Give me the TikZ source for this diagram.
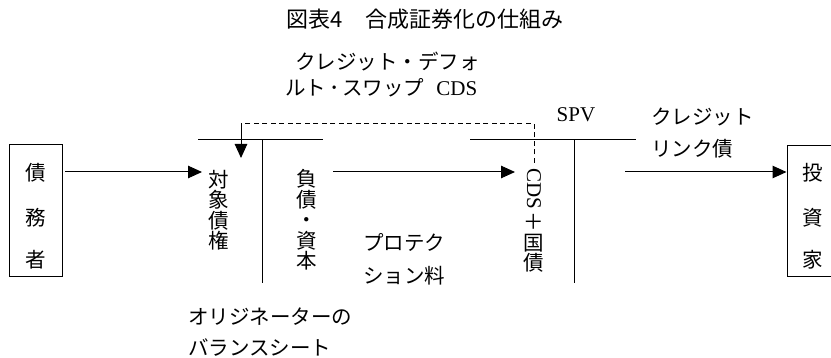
\documentclass[tikz,border=0pt]{standalone}
\usepackage{fontspec}
\newfontfamily\jp{Noto Sans CJK JP}
\newfontfamily\lat{Liberation Serif}
\usetikzlibrary{arrows.meta}
\begin{document}
\begin{tikzpicture}[x=1pt,y=-1pt,
  ln/.style={line width=1pt},
  arr/.style={ln,-{Triangle[length=14pt,width=12.5pt]}},
  dsh/.style={line width=1pt,dash pattern=on 5pt off 3.5pt},
  jt/.style={font=\jp\fontsize{20.5}{20.5}\selectfont,inner sep=0pt,align=center},
  tt/.style={font=\jp\fontsize{22}{22}\selectfont,inner sep=0pt},
  lt/.style={font=\lat\fontsize{21}{21}\selectfont,inner sep=0pt},
  boxst/.style={draw,line width=1pt,inner sep=0pt}]
\useasboundingbox (0,0) rectangle (831,358);

% title
\node[tt] (title) at (425,19) {図表4　合成証券化の仕組み};

% CDS label
\node[jt,anchor=west] (cdsA) at (295,62) {クレジット・デフォ};
\node[jt,anchor=west] (cdsB) at (285,88) {ルト\hspace{3pt}･\hspace{3pt}スワップ\hspace{12pt}{\lat\fontsize{21}{21}\selectfont CDS}};

% boxes
\node[boxst,minimum width=53pt,minimum height=132pt] (debtor) at (35.5,211) {};
\node[jt] (d1) at (35.5,173) {債};
\node[jt] (d2) at (35.5,218) {務};
\node[jt] (d3) at (35.5,260) {者};

\node[boxst,minimum width=56pt,minimum height=131pt] (inv) at (815,211.5) {};
\node[jt] (i1) at (813,173) {投};
\node[jt] (i2) at (813,218) {資};
\node[jt] (i3) at (813,260) {家};

% originator balance sheet
\coordinate (obL) at (198,140);
\coordinate (obR) at (323,140);
\coordinate (obT) at (262,140);
\coordinate (obB) at (262,283);
\draw[ln] (obL) -- (obR);
\draw[ln] (obT) -- (obB);
\node[jt] (asset) at (219,210) {対\\象\\債\\権};
\node[jt] (liab) at (307,220) {負\\債\\・\\資\\本};

% SPV balance sheet
\coordinate (spL) at (470,140);
\coordinate (spR) at (636,140);
\coordinate (spT) at (574,140);
\coordinate (spB) at (574,283);
\draw[ln] (spL) -- (spR);
\draw[ln] (spT) -- (spB);
\node[lt] (spv) at (576,115) {SPV};
\node[lt,rotate=-90] (cdsv) at (534,188.5) {CDS};
\node[jt] (govt) at (534,243.5) {＋\\国\\債};

% connectors
\coordinate (a1s) at (65,172);
\coordinate (a1e) at (202,172);
\draw[arr] (a1s) -- (a1e);
\coordinate (a2s) at (333,172);
\coordinate (a2e) at (515,172);
\draw[arr] (a2s) -- (a2e);
\coordinate (a3s) at (625,172);
\draw[arr] (a3s) -- (inv.west |- a3s);

% dashed CDS link
\coordinate (dR) at (534,163);
\coordinate (dRt) at (534,124);
\coordinate (dLt) at (241,124);
\coordinate (dL) at (241,158);
\draw[dsh] (dR) -- (dRt) -- (dLt);
\draw[arr] (dLt) -- (dL);

% labels
\node[jt,anchor=west] (clA) at (651,117) {クレジット};
\node[jt,anchor=west] (clB) at (651,149) {リンク債};
\node[jt,anchor=west] (prA) at (363,242) {プロテク};
\node[jt,anchor=west] (prB) at (363,276) {ション料};
\node[jt,anchor=west] (bsA) at (188,317) {オリジネーターの};
\node[jt,anchor=west] (bsB) at (188,348) {バランスシート};
\end{tikzpicture}
\end{document}
